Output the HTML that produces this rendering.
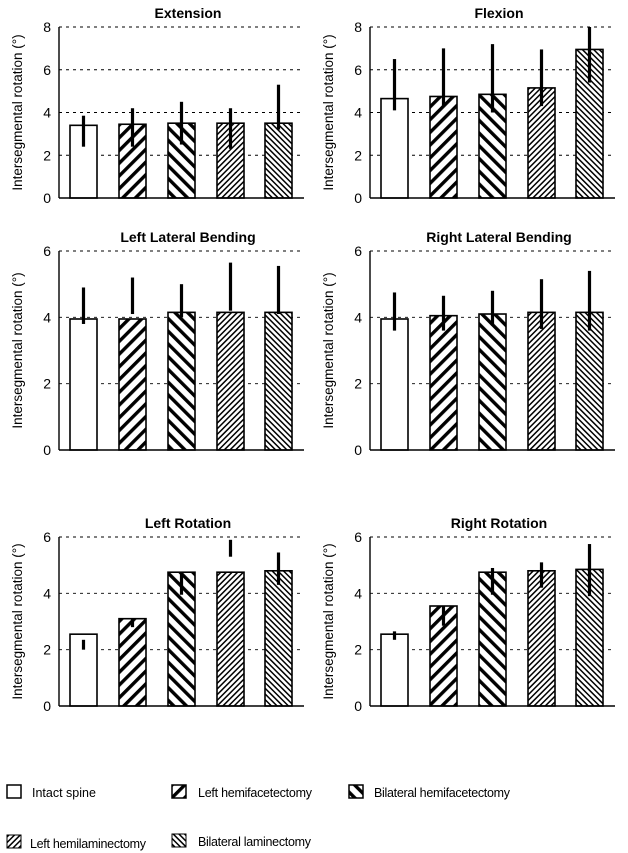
<!DOCTYPE html>
<html><head><meta charset="utf-8"><style>
body{margin:0;background:#fff}
svg{display:block;font-family:"Liberation Sans",Arial,sans-serif}
</style></head><body>
<svg id="c" width="628" height="853" viewBox="0 0 628 853">
<defs>
<pattern id="p1" patternUnits="userSpaceOnUse" width="9" height="9" patternTransform="rotate(45)"><rect width="9" height="9" fill="#fff"/><rect x="0" width="3.4" height="9" fill="#000"/></pattern>
<pattern id="p2" patternUnits="userSpaceOnUse" width="9" height="9" patternTransform="rotate(-45)"><rect width="9" height="9" fill="#fff"/><rect x="0" width="3.4" height="9" fill="#000"/></pattern>
<pattern id="p3" patternUnits="userSpaceOnUse" width="4" height="4" patternTransform="rotate(45)"><rect width="4" height="4" fill="#fff"/><rect x="0" width="1.5" height="4" fill="#000"/></pattern>
<pattern id="p4" patternUnits="userSpaceOnUse" width="4" height="4" patternTransform="rotate(-45)"><rect width="4" height="4" fill="#fff"/><rect x="0" width="1.5" height="4" fill="#000"/></pattern>
</defs>
<g id="legend">
<rect x="7" y="785" width="14" height="13" fill="#fff" stroke="#000" stroke-width="1.5"/>
<text x="32" y="797" font-size="12.5">Intact spine</text>
<rect x="172" y="785" width="14" height="13" fill="url(#p1)" stroke="#000" stroke-width="1.5"/>
<text x="198" y="797" font-size="12.5" textLength="114">Left hemifacetectomy</text>
<rect x="349" y="785" width="14" height="13" fill="url(#p2)" stroke="#000" stroke-width="1.5"/>
<text x="374" y="797" font-size="12.5" textLength="136">Bilateral hemifacetectomy</text>
<rect x="7" y="835" width="14" height="13" fill="url(#p3)" stroke="#000" stroke-width="1"/>
<text x="30" y="848" font-size="12.5" textLength="116">Left hemilaminectomy</text>
<rect x="172" y="834" width="14" height="13" fill="url(#p4)" stroke="#000" stroke-width="1"/>
<text x="198" y="846" font-size="12.5" textLength="113">Bilateral laminectomy</text>
</g>
</svg>
<script>
const categories = ["Intact spine","Left hemifacetectomy","Bilateral hemifacetectomy","Left hemilaminectomy","Bilateral laminectomy"];
const titles = ["Extension","Flexion","Left Lateral Bending","Right Lateral Bending","Left Rotation","Right Rotation"];
const means = [
 [3.4,3.45,3.5,3.5,3.5],
 [4.65,4.75,4.85,5.15,6.95],
 [3.95,3.95,4.15,4.15,4.15],
 [3.95,4.05,4.1,4.15,4.15],
 [2.55,3.1,4.75,4.75,4.8],
 [2.55,3.55,4.75,4.8,4.85]
];
const errLow = [
 [2.4,2.4,2.5,2.3,3.2],
 [4.1,4.3,4.0,4.3,5.4],
 [3.8,4.1,4.0,4.2,4.1],
 [3.6,3.6,3.75,3.65,3.6],
 [2.0,2.8,3.95,5.3,4.3],
 [2.35,2.85,3.95,4.2,3.9]
];
const errHigh = [
 [3.85,4.2,4.5,4.2,5.3],
 [6.5,7.0,7.2,6.95,8.0],
 [4.9,5.2,5.0,5.65,5.55],
 [4.75,4.65,4.8,5.15,5.4],
 [2.35,3.1,4.75,5.9,5.45],
 [2.65,3.55,4.9,5.1,5.75]
];
const yMax = [8,8,6,6,6,6];
const yTicks = [[0,2,4,6,8],[0,2,4,6,8],[0,2,4,6],[0,2,4,6],[0,2,4,6],[0,2,4,6]];

const NS="http://www.w3.org/2000/svg";
const svg=document.getElementById('c');
const rows=[{top:27,bot:198},{top:251,bot:450},{top:537,bot:706}];
const fills=["#fff","url(#p1)","url(#p2)","url(#p3)","url(#p4)"];
const barX=[70,119,168,217,265], barW=27;
function mk(tag,attrs,parent){const e=document.createElementNS(NS,tag);for(const k in attrs)e.setAttribute(k,attrs[k]);parent.appendChild(e);return e;}
titles.forEach((t,i)=>{
  const r=rows[Math.floor(i/2)], off=(i%2)*311;
  const ax=59+off;
  const y=v=>r.bot-(v/yMax[i])*(r.bot-r.top);
  const g=mk('g',{},svg);
  
  
  const tt=mk('text',{x:ax+129,y:r.top-9,'font-size':'14','font-weight':'bold','text-anchor':'middle'},g);
  tt.textContent=t;
  
  
  const yt=mk('text',{transform:`translate(${off+22},${(r.top+r.bot)/2}) rotate(-90)`,'font-size':'13.5','text-anchor':'middle'},g);
  yt.textContent='Intersegmental rotation (°)';
  
  
  yTicks[i].forEach(v=>{
    if(v>0){const gl=mk('line',{x1:ax,x2:ax+245,y1:y(v),y2:y(v),stroke:'#000','stroke-width':'0.9','stroke-dasharray':'3,4'},g);
      
      }
    const tl=mk('text',{x:ax-8,y:y(v)+5,'font-size':'14','text-anchor':'end'},g);
    tl.textContent=v;
    
    
  });
  categories.forEach((c,j)=>{
    const x=barX[j]+off;
    const b=mk('rect',{x:x,y:y(means[i][j]),width:barW,height:y(0)-y(means[i][j]),fill:fills[j],stroke:'#000','stroke-width':'1.6'},g);
    
    
    const e=mk('line',{x1:x+barW/2,x2:x+barW/2,y1:y(errLow[i][j]),y2:y(errHigh[i][j]),stroke:'#000','stroke-width':'3.2'},g);
    
    
  });
  const a1=mk('line',{x1:ax,x2:ax,y1:r.top,y2:r.bot,stroke:'#000','stroke-width':'1.4'},g);
  
  
  const a2=mk('line',{x1:ax,x2:ax+245,y1:r.bot,y2:r.bot,stroke:'#000','stroke-width':'1.4'},g);
  
  
});
</script>
</body></html>
